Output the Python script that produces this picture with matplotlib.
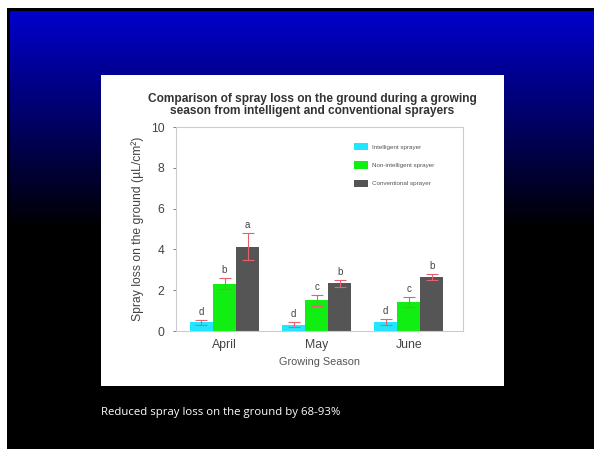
import numpy as np
import matplotlib
matplotlib.use("Agg")
import matplotlib.pyplot as plt
from matplotlib.patches import Rectangle

months = ["April", "May", "June"]
series = ["Intelligent sprayer", "Non-intelligent sprayer", "Conventional sprayer"]
intelligent = [0.43, 0.31, 0.44]
intelligent_err = [0.12, 0.12, 0.13]
non_intelligent = [2.32, 1.50, 1.42]
non_intelligent_err = [0.27, 0.25, 0.24]
conventional = [4.13, 2.35, 2.64]
conventional_err = [0.65, 0.17, 0.16]
letters_int = ["d", "d", "d"]
letters_non = ["b", "c", "c"]
letters_conv = ["a", "b", "b"]

W, H = 594, 449
fig = plt.figure(figsize=(W / 100, H / 100), dpi=100)
fig.patch.set_facecolor("white")

# slide background
bg = fig.add_axes([0, 0, 1, 1])
bg.set_xlim(0, W)
bg.set_ylim(H, 0)
bg.axis("off")
bg.add_patch(Rectangle((7, 8), W - 7, H - 8, color="black", lw=0))
grad = np.zeros((300, 1, 3))
t = np.linspace(0, 1, 300)
grad[:, 0, 2] = 0.80 * (1 - t)
bg.imshow(grad, extent=(10, W, 228, 11), aspect="auto", zorder=1)
bg.add_patch(Rectangle((101, 75), 403, 311, color="white", lw=0, zorder=2))
bg.text(101, 413, "Reduced spray loss on the ground by 68-93%", color="white",
        fontsize=8.2, family="Open Sans", va="center", ha="left", zorder=3)

# chart
plt.rcParams["font.family"] = ["Liberation Sans", "DejaVu Sans"]
ax = fig.add_axes([175.7 / W, 1 - 331 / H, (463 - 175.7) / W, (331 - 127) / H])
ax.set_facecolor("white")
x = np.arange(len(months))
bw = 0.25
cols = ["#22e5ff", "#11ee11", "#555555"]
vals = [intelligent, non_intelligent, conventional]
errs = [intelligent_err, non_intelligent_err, conventional_err]
lets = [letters_int, letters_non, letters_conv]
for i in range(3):
    pos = x + (i - 1) * bw
    ax.bar(pos, vals[i], bw, color=cols[i], label=series[i], zorder=2)
    ax.errorbar(pos, vals[i], yerr=errs[i], fmt="none", ecolor="#e86070",
                elinewidth=0.8, capsize=4, capthick=0.8, zorder=3)
    for p, v, e, l in zip(pos, vals[i], errs[i], lets[i]):
        ax.text(p, v + e + 0.15, l, ha="center", va="bottom", fontsize=7,
                color="#444444")

ax.set_xlim(-0.53, 2.59)
ax.set_ylim(0, 10)
ax.set_yticks([0, 2, 4, 6, 8, 10])
ax.set_xticks(x)
ax.set_xticklabels(months)
ax.tick_params(axis="both", labelsize=8.8, colors="#444444", length=2, width=0.5)
ax.tick_params(axis="y", pad=6)
ax.tick_params(axis="x", length=0, pad=6)
for sp in ax.spines.values():
    sp.set_color("#cccccc")
    sp.set_linewidth(0.8)
ax.set_ylabel("Spray loss on the ground (µL/cm²)", fontsize=8.7, color="#444444", labelpad=5)
ax.set_xlabel("Growing Season", fontsize=7.8, color="#555555", labelpad=4)
leg = ax.legend(loc="upper left", bbox_to_anchor=(0.6, 0.95), frameon=False,
                fontsize=4.5, handlelength=2.3, handleheight=1.4,
                labelspacing=1.8, handletextpad=0.6, labelcolor="#555555")
fig.text(312 / W, 1 - 105 / H,
         "Comparison of spray loss on the ground during a growing\nseason from intelligent and conventional sprayers",
         ha="center", va="center", fontsize=8.6, fontweight="bold", color="#333333",
         linespacing=1.0)

fig.savefig("out.png", dpi=100, facecolor=fig.get_facecolor())
